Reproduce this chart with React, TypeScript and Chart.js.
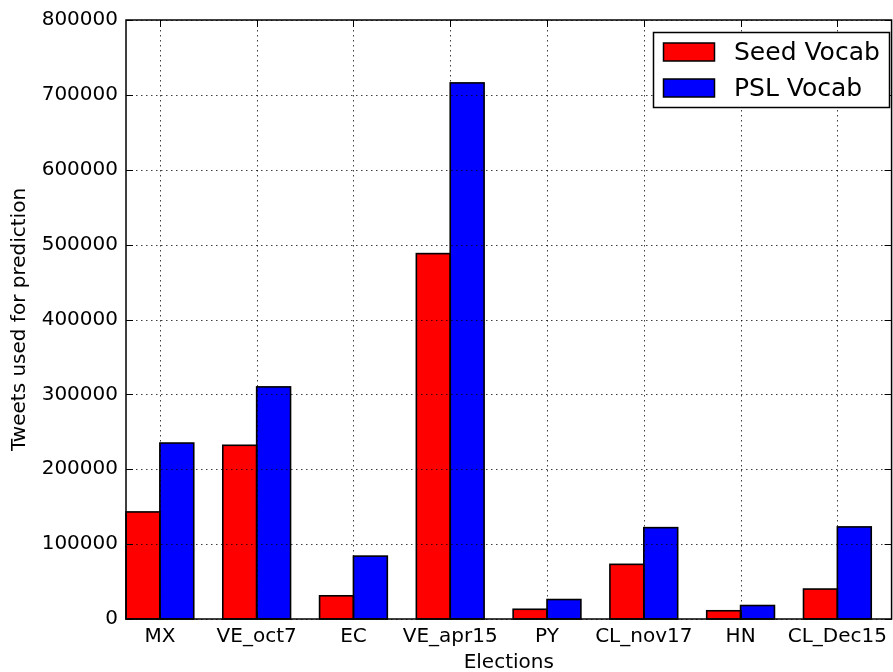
import React, { useEffect, useRef } from "react";
import { Chart, registerables } from "chart.js";

Chart.register(...registerables);

const elections = ["MX", "VE_oct7", "EC", "VE_apr15", "PY", "CL_nov17", "HN", "CL_Dec15"];
const seedVocab = [143000, 232000, 31000, 488000, 13000, 73000, 11000, 40000];
const pslVocab = [235000, 310000, 84000, 716000, 26000, 122000, 18000, 123000];
const yTicks = [0, 100000, 200000, 300000, 400000, 500000, 600000, 700000, 800000];
const seriesNames = ["Seed Vocab", "PSL Vocab"];
const seriesColors = ["#ff0000", "#0000ff"];

const FONT = "'DejaVu Sans', sans-serif";

// Bar outlines, grid on top of the bars, a full frame, inward tick marks and a boxed legend.
const framePlugin = {
  id: "frame",
  afterDatasetsDraw(chart: any) {
    const { ctx, chartArea, scales } = chart;
    const { left, right, top, bottom } = chartArea;
    const xs = scales.x;
    const ys = scales.y;
    ctx.save();

    // bar outlines
    ctx.strokeStyle = "#000";
    ctx.lineWidth = 1.6;
    for (let d = 0; d < chart.data.datasets.length; d++) {
      const bars = chart.getDatasetMeta(d).data;
      for (let k = 0; k < bars.length; k++) {
        const b = bars[k];
        const w = b.width;
        ctx.strokeRect(b.x - w / 2, b.y, w, b.base - b.y);
      }
    }

    // dotted grid
    ctx.strokeStyle = "rgba(0,0,0,0.75)";
    ctx.lineWidth = 1;
    ctx.setLineDash([1.5, 3.5]);
    for (let i = 0; i < elections.length; i++) {
      const x = Math.round(xs.getPixelForValue(i)) + 0.5;
      ctx.beginPath();
      ctx.moveTo(x, top);
      ctx.lineTo(x, bottom);
      ctx.stroke();
    }
    for (const v of yTicks) {
      const y = Math.round(ys.getPixelForValue(v)) + 0.5;
      ctx.beginPath();
      ctx.moveTo(left, y);
      ctx.lineTo(right, y);
      ctx.stroke();
    }
    ctx.setLineDash([]);

    // frame
    ctx.strokeStyle = "#000";
    ctx.lineWidth = 1.5;
    ctx.strokeRect(left, top, right - left, bottom - top);

    // inward ticks
    ctx.lineWidth = 1;
    const tl = 7;
    for (const v of yTicks) {
      const y = Math.round(ys.getPixelForValue(v)) + 0.5;
      ctx.beginPath();
      ctx.moveTo(left, y);
      ctx.lineTo(left + tl, y);
      ctx.moveTo(right, y);
      ctx.lineTo(right - tl, y);
      ctx.stroke();
    }
    for (let i = 0; i < elections.length; i++) {
      const x = Math.round(xs.getPixelForValue(i)) + 0.5;
      ctx.beginPath();
      ctx.moveTo(x, top);
      ctx.lineTo(x, top + tl);
      ctx.moveTo(x, bottom);
      ctx.lineTo(x, bottom - tl);
      ctx.stroke();
    }

    // legend
    const bx = 653.5;
    const by = 32.5;
    const bw = 236;
    const bh = 75;
    ctx.fillStyle = "#fff";
    ctx.fillRect(bx, by, bw, bh);
    ctx.strokeStyle = "#000";
    ctx.lineWidth = 1.5;
    ctx.strokeRect(bx, by, bw, bh);
    ctx.font = `25px ${FONT}`;
    ctx.textBaseline = "middle";
    ctx.textAlign = "left";
    for (let i = 0; i < seriesNames.length; i++) {
      const cy = 52 + i * 36;
      ctx.fillStyle = seriesColors[i];
      ctx.fillRect(663.5, cy - 9, 51, 18);
      ctx.lineWidth = 1.5;
      ctx.strokeRect(663.5, cy - 9, 51, 18);
      ctx.fillStyle = "#000";
      ctx.fillText(seriesNames[i], 734, cy + 1);
    }

    ctx.restore();
  },
};

export default function App() {
  const canvasRef = useRef<HTMLCanvasElement | null>(null);

  useEffect(() => {
    const canvas = canvasRef.current;
    if (!canvas) return;
    const chart = new Chart(canvas, {
      type: "bar",
      data: {
        datasets: [
          {
            label: seriesNames[0],
            data: seedVocab.map((v, i) => ({ x: i, y: v })),
            backgroundColor: seriesColors[0],
            borderWidth: 0,
            categoryPercentage: 0.7,
            barPercentage: 1.0,
          },
          {
            label: seriesNames[1],
            data: pslVocab.map((v, i) => ({ x: i, y: v })),
            backgroundColor: seriesColors[1],
            borderWidth: 0,
            categoryPercentage: 0.7,
            barPercentage: 1.0,
          },
        ],
      },
      options: {
        responsive: false,
        animation: false,
        devicePixelRatio: 1,
        layout: { padding: { top: 19, right: 0, left: 0, bottom: 0 } },
        plugins: {
          legend: { display: false },
          tooltip: { enabled: false },
        },
        scales: {
          x: {
            type: "linear",
            offset: false,
            min: -0.35,
            max: 7.56,
            grid: { display: false, drawTicks: false, offset: false },
            border: { display: false },
            afterBuildTicks: (scale: any) => {
              scale.ticks = elections.map((_, i) => ({ value: i }));
            },
            afterFit: (scale: any) => {
              scale.height = 53;
            },
            ticks: {
              autoSkip: false,
              maxRotation: 0,
              padding: 6,
              color: "#000",
              font: { family: FONT, size: 20 },
              callback: (v: any) => elections[v] ?? "",
            },
            title: {
              display: true,
              text: "Elections",
              color: "#000",
              font: { family: FONT, size: 20 },
              padding: { top: 0, bottom: -3 },
            },
          },
          y: {
            min: 0,
            max: 800000,
            grid: { display: false, drawTicks: false },
            border: { display: false },
            afterBuildTicks: (scale: any) => {
              scale.ticks = yTicks.map((v) => ({ value: v }));
            },
            afterFit: (scale: any) => {
              scale.width = 126;
            },
            ticks: {
              padding: 8,
              color: "#000",
              font: { family: FONT, size: 20 },
              callback: (v: any) => String(v),
            },
            title: {
              display: true,
              text: "Tweets used for prediction",
              color: "#000",
              font: { family: FONT, size: 20 },
              padding: { top: 8, bottom: 0 },
            },
          },
        },
      },
      plugins: [framePlugin],
    });
    return () => chart.destroy();
  }, []);

  return (
    <div style={{ position: "fixed", left: 0, top: 0, width: 893, height: 672, background: "#fff" }}>
      <canvas ref={canvasRef} width={893} height={672} />
    </div>
  );
}
